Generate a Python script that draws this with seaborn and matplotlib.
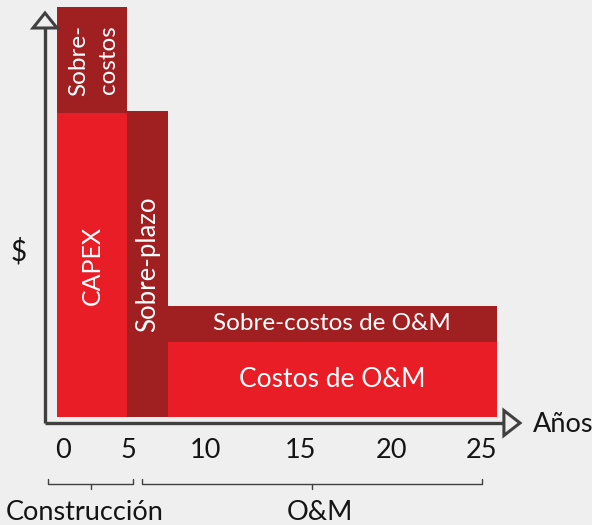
import matplotlib
matplotlib.use("Agg")
import matplotlib.pyplot as plt
import seaborn as sns
from matplotlib.patches import Polygon

# ---- data (schematic units) ----
segments = ["CAPEX", "Sobre-\ncostos", "Sobre-plazo", "Costos de O&M", "Sobre-costos de O&M"]
seg_left = [0.0, 0.0, 5.0, 7.9, 7.9]
seg_right = [5.0, 5.0, 7.9, 31.4, 31.4]
seg_bottom = [0.0, 30.4, 0.0, 0.0, 7.5]
seg_height = [30.4, 10.6, 30.6, 7.5, 3.6]
seg_kind = ["base", "over", "over", "base", "over"]
seg_rot = [90, 90, 90, 0, 0]
seg_fs = [18, 17.5, 18.5, 19, 17.5]

tick_labels = ["0", "5", "10", "15", "20", "25"]
tick_pos = [0.4, 5.1, 10.6, 17.4, 23.9, 30.3]

phases = ["Construcción", "O&M"]
phase_start = [-0.64, 6.07]
phase_end = [5.43, 30.36]
phase_label_shift = [-0.45, 0.6]

BG = "#efefef"
RED = "#e81d25"
DARK = "#a01f21"
AX = "#404040"
TXT = "#141414"

sns.set_style("white")
plt.rcParams["font.family"] = ["Lato", "DejaVu Sans"]

fig = plt.figure(figsize=(5.92, 5.25), dpi=100, facecolor=BG)
ax = fig.add_axes([0, 0, 1, 1])
ax.set_facecolor(BG)
# 1 unit x = 14 px (origin at px 57), 1 unit y = 10 px (origin at px 417)
ax.set_xlim(-57 / 14, (592 - 57) / 14)
ax.set_ylim((417 - 525) / 10, 417 / 10)
ax.axis("off")

for lab, l, r, b, h, k, rot, fs in zip(segments, seg_left, seg_right, seg_bottom,
                                       seg_height, seg_kind, seg_rot, seg_fs):
    ax.bar(l, h, width=r - l, bottom=b, align="edge",
           color=RED if k == "base" else DARK, linewidth=0, zorder=2)
    ax.text((l + r) / 2 + (0.1 if "\n" in lab else 0), b + h / 2, lab, rotation=rot,
            ha="center", va="center", color="white", fontsize=fs, zorder=3,
            linespacing=1.5)

# axes with open arrowheads
yx = -12 / 14          # y-axis x position
xy = -0.6              # x-axis y position
ytip = 40.4
xtip = (520 - 57) / 14
ax.plot([yx, yx], [xy, ytip - 1.5], color=AX, lw=2.4, zorder=4, solid_capstyle="butt")
ax.plot([yx, xtip - 1.1], [xy, xy], color=AX, lw=2.4, zorder=4, solid_capstyle="butt")
ax.add_patch(Polygon([[yx - 12 / 14, ytip - 1.5], [yx + 12 / 14, ytip - 1.5], [yx, ytip]],
                     closed=True, facecolor=BG, edgecolor=AX, lw=2.2, zorder=5))
ax.add_patch(Polygon([[xtip - 1.15, xy + 1.25], [xtip - 1.15, xy - 1.25], [xtip, xy]],
                     closed=True, facecolor=BG, edgecolor=AX, lw=2.2, zorder=5))

ax.text(-2.75, (417 - 252) / 10, "$", ha="center", va="center", fontsize=20, color=TXT)
ax.text(xtip + 0.9, xy - 0.1, "Años", ha="left", va="center", fontsize=19.5, color=TXT)

for lab, p in zip(tick_labels, tick_pos):
    ax.text(p, -3.4, lab, ha="center", va="center", fontsize=19.5, color=TXT)

# brackets
by_top, by = -6.2, -6.7
for lab, s, e, sh in zip(phases, phase_start, phase_end, phase_label_shift):
    c = (s + e) / 2
    ax.plot([s, s, e, e], [by_top, by, by, by_top], color=AX, lw=1.0, zorder=4)
    ax.plot([c, c], [by, by - 0.5], color=AX, lw=1.0, zorder=4)
    ax.text(c + sh, -9.5, lab, ha="center", va="center", fontsize=19.5, color=TXT)

fig.savefig("out.png", dpi=100, facecolor=BG)
